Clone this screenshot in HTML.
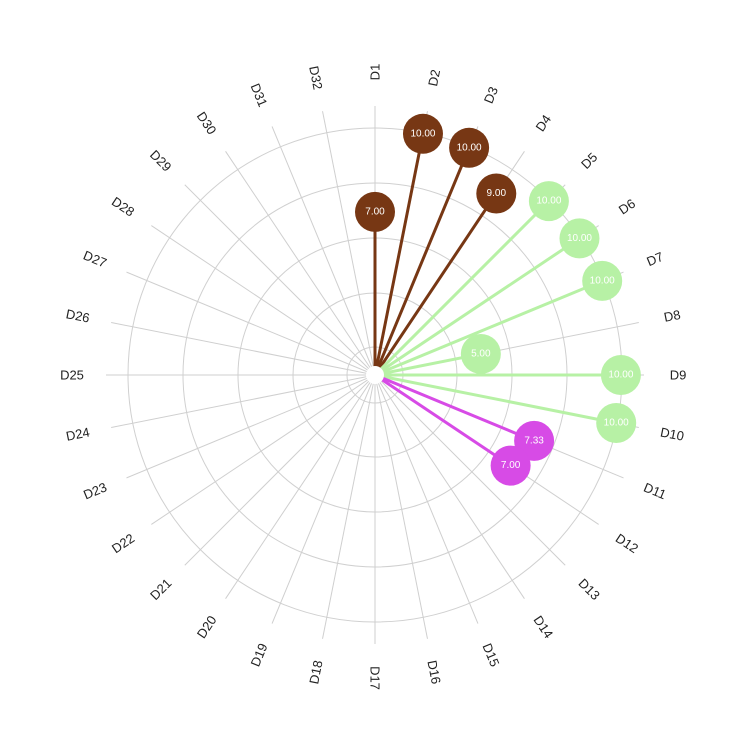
<!DOCTYPE html>
<html><head><meta charset="utf-8"><style>body{margin:0;background:#fff}svg{display:block}</style></head>
<body>
<svg id="chart" width="750" height="750" xmlns="http://www.w3.org/2000/svg" font-family="Liberation Sans, sans-serif"></svg>
<script>
const categories = ["D1","D2","D3","D4","D5","D6","D7","D8","D9","D10","D11","D12","D13","D14","D15","D16","D17","D18","D19","D20","D21","D22","D23","D24","D25","D26","D27","D28","D29","D30","D31","D32"];
const values = [7,10,10,9,10,10,10,5,10,10,7.33,7,null,null,null,null,null,null,null,null,null,null,null,null,null,null,null,null,null,null,null,null];
const groups = ["a","a","a","a","b","b","b","b","b","b","c","c"];
const groupColors = {a:"#773714", b:"#b7f1a5", c:"#d74be6"};
const ringRadii = [28,82,137,192,247];

const NS="http://www.w3.org/2000/svg", svg=document.getElementById('chart');
const cx=375, cy=375;
function rScale(v){return 27.6*(v-1.09);}
function angle(i){return i*360/categories.length;}
function pt(a,r){const t=a*Math.PI/180;return [cx+r*Math.sin(t), cy-r*Math.cos(t)];}
function mk(tag,attrs){const e=document.createElementNS(NS,tag);for(const k in attrs)e.setAttribute(k,attrs[k]);svg.appendChild(e);return e;}

ringRadii.forEach(r=>{
  const c=mk('circle',{cx,cy,r,fill:'none',stroke:'#d0d0d0','stroke-width':1});
  
  
});
categories.forEach((c,i)=>{
  const a=angle(i);const [x,y]=pt(a,269);
  const l=mk('line',{x1:cx,y1:cy,x2:x,y2:y,stroke:'#cfcfcf','stroke-width':1});
  
  
  const [tx,ty]=pt(a,303);
  const rot = a<=180 ? a-90 : a+90;
  const t=mk('text',{x:tx,y:ty,'text-anchor':'middle','dominant-baseline':'central','font-size':13,fill:'#222',transform:`rotate(${rot} ${tx} ${ty})`});
  t.textContent=c;
  
  
});
categories.forEach((c,i)=>{
  const v=values[i]; if(v==null)return;
  const col=groupColors[groups[i]];
  const a=angle(i);const [x,y]=pt(a,rScale(v));
  const l=mk('line',{x1:cx,y1:cy,x2:x,y2:y,stroke:col,'stroke-width':3});
  
  
});
const hole=mk('circle',{cx,cy,r:9,fill:'#fff'});


categories.forEach((c,i)=>{
  const v=values[i]; if(v==null)return;
  const col=groupColors[groups[i]];
  const a=angle(i);const [x,y]=pt(a,rScale(v));
  const d=mk('circle',{cx:x,cy:y,r:20,fill:col});
  
  
  const t=mk('text',{x,y,'text-anchor':'middle','dominant-baseline':'central','font-size':10,fill:'#fff'});
  t.textContent=v.toFixed(2);
  
  
});
</script>
</body></html>
